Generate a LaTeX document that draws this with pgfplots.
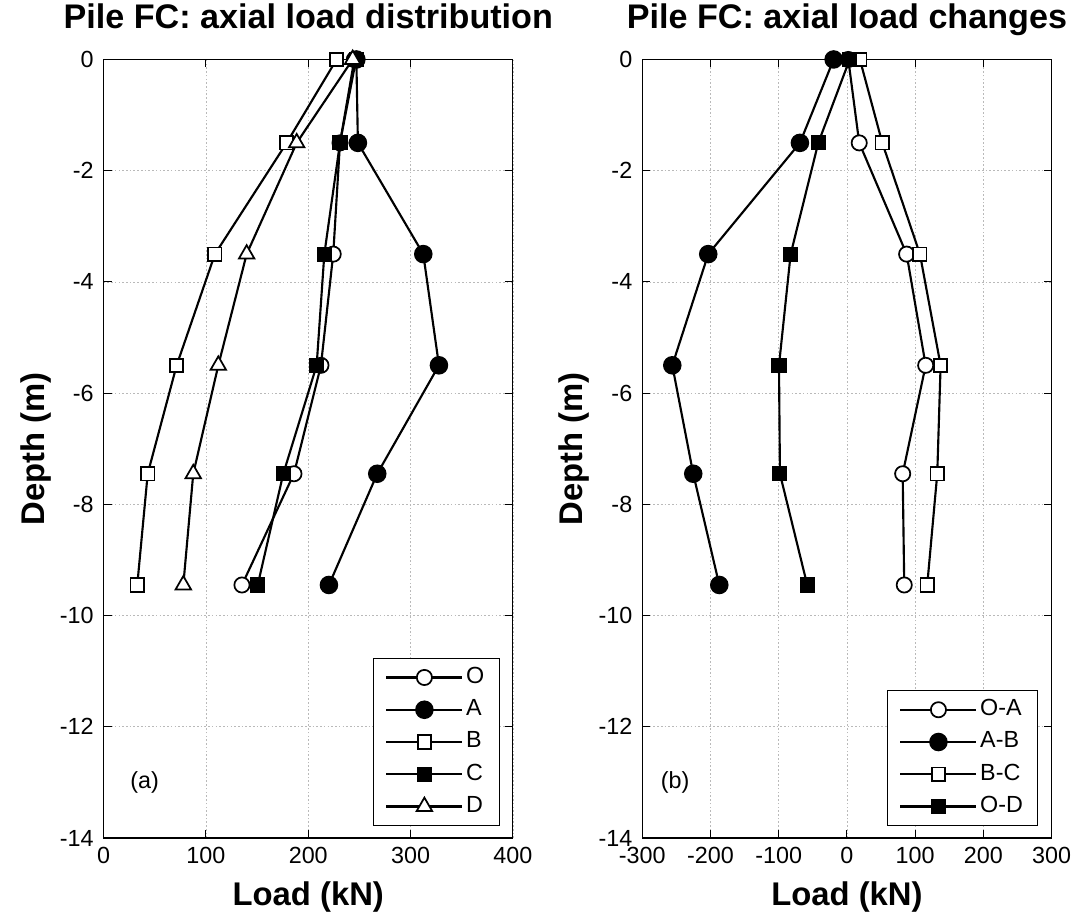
\documentclass[border=0pt]{standalone}
\usepackage{fontspec}
\setmainfont{Liberation Sans}
\usepackage{pgfplots}
\usepackage{pgfplotstable}
\pgfplotsset{compat=1.18}

% Axial load (kN) along the pile at each gauge depth (m)
\pgfplotstableread{
depth  O      A      B      C      D
0      245.0  247.0  227.7  246.7  243.4
-1.5   231.0  248.5  178.9  231.0  188.7
-3.5   224.4  312.4  108.8  215.7  139.8
-5.5   212.4  327.7   71.4  208.2  112.1
-7.45  186.0  267.4   43.1  175.6   87.6
-9.45  135.2  220.2   32.9  150.6   77.9
}\loaddist

% Changes of axial load between stages (kN)
\pgfplotstableread{
depth  OA     AB      BC     OD
0        2.0  -19.5   19.0    4.0
-1.5    18.0  -68.9   51.8  -42.0
-3.5    87.5 -203.3  107.0  -82.5
-5.5   115.4 -256.0  137.3  -99.6
-7.45   81.7 -225.3  132.4  -98.2
-9.45   84.0 -187.1  117.7  -58.2
}\loadchange

\newcommand{\legfont}{\fontsize{17.5}{19}\selectfont}

\pgfplotsset{
  pileaxis/.style={
    scale only axis, width=307pt, height=583.9pt,
    ymin=-14, ymax=0,
    ytick={-14,-12,...,0},
    yticklabels={-14,-12,-10,-8,-6,-4,-2,0},
    grid=major,
    grid style={gray!55, line width=0.6pt, dash pattern=on 1.2pt off 1.6pt},
    axis line style={line width=0.8pt},
    every tick/.style={black, line width=0.8pt},
    tick align=inside, tick pos=both, major tick length=6pt,
    ticklabel style={font=\fontsize{17.5}{20}\selectfont},
    xticklabel style={yshift=-3pt},
    yticklabel style={xshift=-4pt},
    label style={font=\fontsize{24.6}{28}\selectfont\bfseries},
    xlabel style={at={(axis description cs:0.5,-0.0758)}, anchor=center},
    ylabel style={at={(axis description cs:-0.166,0.5)}, anchor=center},
    title style={font=\fontsize{25.6}{30}\selectfont\bfseries,
      at={(axis description cs:0.5,1)}, anchor=base, yshift=17pt},
    legend style={at={(axis description cs:0.9665,0.0154)}, anchor=south east,
      draw=black, font=\legfont,
      inner xsep=9pt, inner ysep=4pt, row sep=3.4pt,
      nodes={font=\legfont, inner ysep=2pt, text height=12.8pt, text depth=4pt}},
    legend cell align=left,
    legend image code/.code={
      \draw[line width=1.6pt, mark repeat=2, mark phase=2]
        plot coordinates {(0pt,0pt) (28.5pt,0pt) (57pt,0pt)};},
    every axis plot/.append style={black, line width=1.6pt},
  },
  ocirc/.style={mark=*, mark size=5.7pt, mark options={fill=white, draw=black, line width=1.3pt}},
  fcirc/.style={mark=*, mark size=6.3pt, mark options={fill=black, draw=black, line width=1.3pt}},
  osq/.style={mark=square*, mark size=5pt, mark options={fill=white, draw=black, line width=1.3pt}},
  fsq/.style={mark=square*, mark size=5pt, mark options={fill=black, draw=black, line width=1.3pt}},
  otri/.style={mark=triangle*, mark size=6.7pt, mark options={fill=white, draw=black, line width=1.3pt}},
}

\begin{document}
\begin{tikzpicture}
\useasboundingbox (0pt,0pt) rectangle (807.75pt,688.5pt);

\begin{axis}[pileaxis, at={(77.7pt,60pt)}, anchor=south west,
  xmin=0, xmax=400, xtick={0,100,...,400},
  xticklabels={0,100,200,300,400},
  xlabel={Load (kN)}, ylabel={Depth (m)},
  title={Pile FC: axial load distribution}]
  \addplot[ocirc] table[x=O, y=depth] {\loaddist};
  \addlegendentry{O}
  \addplot[fcirc] table[x=A, y=depth] {\loaddist};
  \addlegendentry{A}
  \addplot[osq] table[x=B, y=depth] {\loaddist};
  \addlegendentry{B}
  \addplot[fsq] table[x=C, y=depth] {\loaddist};
  \addlegendentry{C}
  \addplot[otri] table[x=D, y=depth] {\loaddist};
  \addlegendentry{D}
  \node[font=\fontsize{17.5}{20}\selectfont] at (axis cs:40,-13) {(a)};
\end{axis}

\begin{axis}[pileaxis, at={(481.7pt,60pt)}, anchor=south west,
  xmin=-300, xmax=300, xtick={-300,-200,...,300},
  xticklabels={-300,-200,-100,0,100,200,300},
  xlabel={Load (kN)}, ylabel={Depth (m)},
  title={Pile FC: axial load changes}]
  \addplot[ocirc] table[x=OA, y=depth] {\loadchange};
  \addlegendentry{O-A}
  \addplot[fcirc] table[x=AB, y=depth] {\loadchange};
  \addlegendentry{A-B}
  \addplot[osq] table[x=BC, y=depth] {\loadchange};
  \addlegendentry{B-C}
  \addplot[fsq] table[x=OD, y=depth] {\loadchange};
  \addlegendentry{O-D}
  \node[font=\fontsize{17.5}{20}\selectfont] at (axis cs:-252,-13) {(b)};
\end{axis}
\end{tikzpicture}
\end{document}
